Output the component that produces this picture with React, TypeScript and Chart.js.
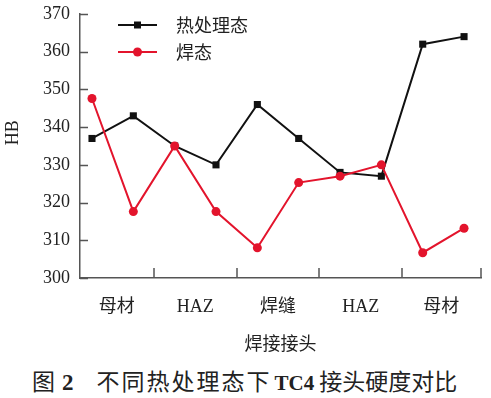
import React, { useEffect, useRef } from "react";
import { Chart, registerables } from "chart.js";

Chart.register(...registerables);

const categories = ["母材", "HAZ", "焊缝", "HAZ", "母材"];
const categoryCenters = [0.6, 2.5, 4.5, 6.5, 8.45];
const groupBoundaries = [1.5, 3.5, 5.5, 7.5, 9.4];
const heatTreated = [337, 343, 335, 330, 346, 337, 328, 327, 362, 364];
const asWelded = [347.6, 317.6, 335, 317.6, 308, 325.3, 327, 330, 306.7, 313.2];
const seriesNames = ["热处理态", "焊态"];
const yTitle = "HB";
const yMin = 300;
const yMax = 370;
const yStep = 10;
const xMin = -0.29;
const xMax = 9.41;

const SERIF = '"Liberation Serif", "Noto Sans CJK SC", serif';
const CJK = '"Noto Sans CJK SC", "Liberation Serif", sans-serif';
const AXIS_COLOR = "#555555";
const BLACK = "#111111";
const RED = "#e3142c";

const W = 491;
const H = 358;

const innerTicksPlugin = {
  id: "innerTicks",
  afterDraw(chart: any) {
    const { ctx, chartArea, scales } = chart;
    const x = scales.x;
    const y = scales.y;
    ctx.save();
    ctx.strokeStyle = AXIS_COLOR;
    ctx.lineWidth = 1.5;
    ctx.beginPath();
    y.ticks.forEach((t: any) => {
      const py = Math.round(y.getPixelForValue(t.value)) + 0.5;
      ctx.moveTo(chartArea.left, py);
      ctx.lineTo(chartArea.left + 8, py);
    });
    groupBoundaries.forEach((b) => {
      const px = Math.round(x.getPixelForValue(b));
      ctx.moveTo(px, chartArea.bottom);
      ctx.lineTo(px, chartArea.bottom - 10);
    });
    ctx.stroke();
    // y axis title
    ctx.fillStyle = "#222";
    ctx.font = `18px ${SERIF}`;
    ctx.textAlign = "center";
    ctx.textBaseline = "middle";
    ctx.translate(13, chartArea.top + (chartArea.bottom - chartArea.top) * 0.45);
    ctx.rotate(-Math.PI / 2);
    ctx.fillText(yTitle, 0, 0);
    ctx.restore();
  },
};

const legendPlugin = {
  id: "innerLegend",
  afterDraw(chart: any) {
    const { ctx, chartArea } = chart;
    const ds = chart.data.datasets;
    const lineStart = chartArea.left + 38;
    const lineEnd = chartArea.left + 77;
    const textX = chartArea.left + 96;
    const rows = [chartArea.top + 11, chartArea.top + 38];
    seriesNames.forEach((name, i) => {
      const d = ds.find((q: any) => q.label === name);
      if (!d) return;
      const yy = rows[i];
      ctx.save();
      ctx.strokeStyle = d.borderColor;
      ctx.lineWidth = 2;
      ctx.beginPath();
      ctx.moveTo(lineStart, yy);
      ctx.lineTo(lineEnd, yy);
      ctx.stroke();
      const cx = (lineStart + lineEnd) / 2;
      ctx.fillStyle = d.pointBackgroundColor;
      ctx.beginPath();
      if (d.pointStyle === "rect") {
        ctx.rect(cx - 3.5, yy - 3.5, 7, 7);
      } else {
        ctx.arc(cx, yy, 4.5, 0, Math.PI * 2);
      }
      ctx.fill();
      ctx.fillStyle = "#222";
      ctx.font = `18px ${CJK}`;
      ctx.textBaseline = "middle";
      ctx.textAlign = "left";
      ctx.fillText(name, textX, yy);
      ctx.restore();
    });
  },
};

export default function App() {
  const ref = useRef<HTMLCanvasElement | null>(null);

  useEffect(() => {
    if (!ref.current) return;
    const chart = new Chart(ref.current, {
      type: "line",
      data: {
        datasets: [
          {
            label: seriesNames[0],
            data: heatTreated.map((v, i) => ({ x: i, y: v })),
            borderColor: BLACK,
            backgroundColor: BLACK,
            pointBackgroundColor: BLACK,
            pointBorderColor: BLACK,
            pointStyle: "rect",
            pointRadius: 5,
            pointBorderWidth: 0,
            borderWidth: 2,
            tension: 0,
            order: 2,
          },
          {
            label: seriesNames[1],
            data: asWelded.map((v, i) => ({ x: i, y: v })),
            borderColor: RED,
            backgroundColor: RED,
            pointBackgroundColor: RED,
            pointBorderColor: RED,
            pointStyle: "circle",
            pointRadius: 4.5,
            pointBorderWidth: 0,
            borderWidth: 2,
            tension: 0,
            order: 1,
          },
        ],
      },
      options: {
        responsive: false,
        animation: false,
        devicePixelRatio: 1,
        layout: { padding: { top: 14, right: 10, left: 0, bottom: 0 } },
        plugins: {
          legend: { display: false },
          tooltip: { enabled: false },
        },
        scales: {
          x: {
            type: "linear",
            min: xMin,
            max: xMax,
            afterBuildTicks: (scale: any) => {
              scale.ticks = categoryCenters.map((v) => ({ value: v }));
            },
            afterFit: (scale: any) => {
              scale.height = H - 278;
              scale.paddingLeft = 0;
              scale.paddingRight = 0;
            },
            grid: { display: false, drawTicks: false },
            border: { display: true, color: AXIS_COLOR, width: 1.5 },
            ticks: {
              autoSkip: false,
              maxRotation: 0,
              padding: 18,
              color: "#222",
              font: { family: SERIF, size: 18 },
              callback: (_v: any, i: number) => categories[i],
            },
            title: {
              display: true,
              text: "焊接接头",
              color: "#222",
              font: { family: CJK, size: 18 },
            },
          },
          y: {
            min: yMin,
            max: yMax,
            afterFit: (scale: any) => {
              scale.width = 80;
              scale.paddingTop = 0;
              scale.paddingBottom = 0;
            },
            grid: { display: false, drawTicks: false },
            border: { display: true, color: AXIS_COLOR, width: 1.5 },
            ticks: {
              stepSize: yStep,
              padding: 10,
              color: "#222",
              font: { family: SERIF, size: 18 },
            },
            title: { display: false },
          },
        },
      },
      plugins: [innerTicksPlugin, legendPlugin],
    });
    return () => chart.destroy();
  }, []);

  return (
    <div
      style={{
        position: "absolute",
        left: 0,
        top: 0,
        width: W,
        height: 398,
        background: "#fff",
        overflow: "hidden",
      }}
    >
      <canvas ref={ref} width={W} height={H} style={{ display: "block", width: W, height: H }} />
      <div
        style={{
          position: "absolute",
          left: 32,
          top: 366,
          textAlign: "left",
          fontSize: 23,
          lineHeight: "28px",
          color: "#222",
          fontFamily: CJK,
          whiteSpace: "nowrap",
        }}
      >
        <span>图</span>
        <span style={{ fontFamily: SERIF, fontWeight: "bold", marginLeft: 7 }}>2</span>
        <span style={{ marginLeft: 23, letterSpacing: 2 }}>不同热处理态下</span>
        <span style={{ fontFamily: SERIF, fontWeight: "bold", fontSize: 21, margin: "0 5px 0 3px" }}>TC4</span>
        <span>接头硬度对比</span>
      </div>
    </div>
  );
}
